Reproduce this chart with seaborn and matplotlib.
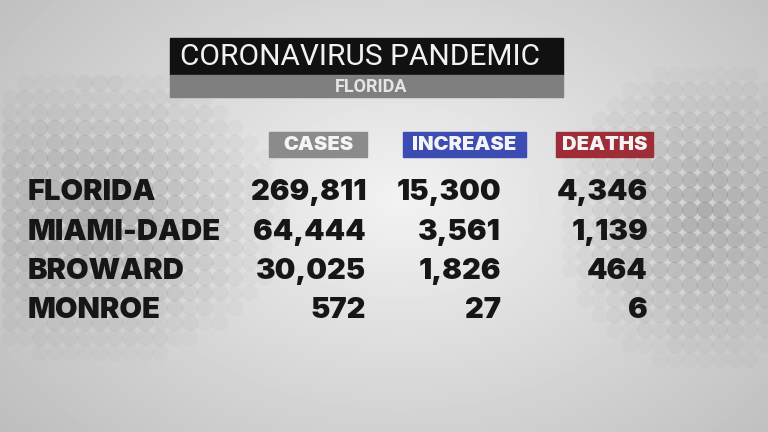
import numpy as np
import pandas as pd
import matplotlib
matplotlib.use("Agg")
import matplotlib.pyplot as plt
import seaborn as sns
from matplotlib.patches import Rectangle

# ---- data ----
regions = ["FLORIDA", "MIAMI-DADE", "BROWARD", "MONROE"]
cases = [269811, 64444, 30025, 572]
increase = [15300, 3561, 1826, 27]
deaths = [4346, 1139, 464, 6]
headers = ["CASES", "INCREASE", "DEATHS"]
title = "CORONAVIRUS PANDEMIC"
subtitle = "FLORIDA"

df = pd.DataFrame({"region": regions, "CASES": cases, "INCREASE": increase, "DEATHS": deaths})

sns.set_theme(style="white")
plt.rcParams["font.family"] = ["Inter", "DejaVu Sans"]

W, H = 768, 432
fig = plt.figure(figsize=(7.68, 4.32), dpi=100)
ax = fig.add_axes([0, 0, 1, 1])
ax.set_xlim(0, W)
ax.set_ylim(H, 0)
ax.axis("off")

# background gradient
yy, xx = np.mgrid[0:H:2, 0:W:2]
d = np.sqrt(((xx - 400) / 420.0) ** 2 + ((yy - 200) / 300.0) ** 2)
bg = 0.95 - 0.17 * np.clip(d, 0, 1.3)
ax.imshow(bg, cmap="gray", vmin=0, vmax=1, extent=(0, W, H, 0), zorder=0, aspect="auto")

# decorative dot fields
pts = []
for cx, cy, sx, sy in [(100, 215, 150, 120), (705, 215, 120, 125)]:
    for gx in np.arange(cx - 2 * sx, cx + 2 * sx, 15.0):
        for gy in np.arange(cy - 1.6 * sy, cy + 1.6 * sy, 15.0):
            if 0 <= gx <= W and 0 <= gy <= H:
                r = np.sqrt(((gx - cx) / sx) ** 2 + ((gy - cy) / sy) ** 2)
                a = max(0.0, 0.5 * (1 - r / 1.3))
                if a > 0.03:
                    pts.append((gx, gy, a))
dots = pd.DataFrame(pts, columns=["x", "y", "a"])
for a_lvl in np.linspace(0.05, 0.5, 10):
    sub = dots[(dots.a > a_lvl - 0.025) & (dots.a <= a_lvl + 0.025)]
    if len(sub):
        sns.scatterplot(data=sub, x="x", y="y", s=140, color="#8a8a8a", alpha=a_lvl,
                        edgecolor="none", ax=ax, legend=False, zorder=1)
ax.set_xlim(0, W)
ax.set_ylim(H, 0)
ax.set_xlabel("")
ax.set_ylabel("")

# title bars
ax.add_patch(Rectangle((170, 38), 393, 37, color="#111111", zorder=3))
ax.add_patch(Rectangle((170, 75), 393, 22, color="#7f7f7f", zorder=3))
ax.text(180, 57, title, family="Roboto", fontsize=21.5, color="#f2f2f2",
        ha="left", va="center", zorder=4)
ax.text(371, 86.5, subtitle, family="Roboto", fontweight="bold", fontsize=13,
        color="#e6e6e6", ha="center", va="center", zorder=4)

# column headers
hdr_boxes = {"CASES": (269, 98, "#8b8b8b"), "INCREASE": (403, 123, "#3c4cb2"),
             "DEATHS": (556, 97, "#9e2d38")}
for h in headers:
    x0, w, c = hdr_boxes[h]
    ax.add_patch(Rectangle((x0, 132), w, 25, color=c, zorder=3))
    ax.text(x0 + w / 2, 145, h, family="Inter", fontweight=900, fontsize=14.5,
            color="#f4f4f4", ha="center", va="center", zorder=4)

# rows
col_right = {"CASES": 366, "INCREASE": 501, "DEATHS": 648}
row_y0, row_step = 190, 39.2
for i, row in df.iterrows():
    y = row_y0 + i * row_step
    ax.text(28, y, row["region"], family="Inter", fontweight=900, fontsize=21,
            color="#161616", ha="left", va="center_baseline", zorder=4)
    for h in headers:
        ax.text(col_right[h], y, f"{row[h]:,}", family="Inter", fontweight=900,
                fontsize=21, color="#161616", ha="right", va="center_baseline", zorder=4)

fig.savefig("out.png", dpi=100)
